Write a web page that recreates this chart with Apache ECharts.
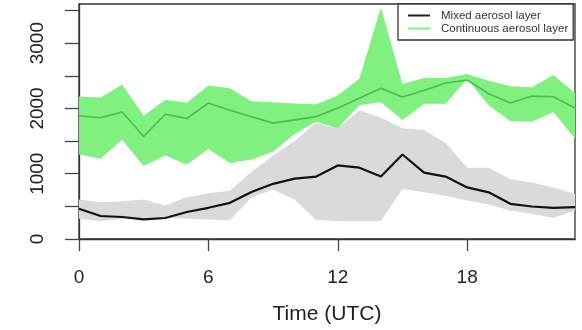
<!DOCTYPE html>
<html>
<head>
<meta charset="utf-8">
<style>
  html, body { margin: 0; padding: 0; background: #fff; }
  #chart { width: 582px; height: 330px; }
</style>
<script src="https://cdn.jsdelivr.net/npm/echarts@6/dist/echarts.min.js"></script>
</head>
<body>
<div id="chart"></div>
<script>
// Hour of day (UTC)
const hours = ['0','1','2','3','4','5','6','7','8','9','10','11','12','13','14','15','16','17','18','19','20','21','22','23'];

// Mixed aerosol layer height (m): mean and spread
const mixedMean = [463, 352, 337, 302, 322, 413, 478, 554, 720, 845, 925, 956, 1127, 1092, 956, 1294, 1017, 956, 790, 715, 539, 498, 478, 488];
const mixedLow  = [312, 277, 312, 312, 327, 312, 300, 287, 640, 760, 600, 290, 277, 277, 277, 765, 715, 664, 589, 528, 438, 388, 322, 438];
const mixedHigh = [604, 564, 579, 604, 513, 639, 700, 740, 1030, 1280, 1500, 1780, 1700, 1970, 1860, 1696, 1671, 1470, 1092, 1092, 916, 866, 790, 690];

// Continuous aerosol layer height (m): mean and spread
const contMean = [1887, 1857, 1947, 1570, 1912, 1846, 2083, 1972, 1872, 1775, 1825, 1875, 2005, 2155, 2308, 2174, 2275, 2390, 2436, 2225, 2083, 2189, 2179, 2008];
const contLow  = [1293, 1228, 1520, 1117, 1278, 1142, 1379, 1166, 1217, 1340, 1610, 1797, 1695, 2048, 2099, 1822, 2073, 2073, 2451, 2048, 1807, 1797, 1947, 1535];
const contHigh = [2184, 2169, 2365, 1887, 2134, 2089, 2350, 2310, 2109, 2095, 2075, 2065, 2199, 2460, 3548, 2375, 2466, 2466, 2526, 2426, 2340, 2325, 2511, 2235];

// Axis ticks
const xTickHours = [0, 6, 12, 18];
const yTicks = [0, 500, 1000, 1500, 2000, 2500, 3000, 3500];
const yLabels = [0, 1000, 2000, 3000];

const FONT = 'Liberation Sans, Arial, Helvetica, sans-serif';
const GREEN_BAND = '#80f080';
const GREEN_LINE = '#48bf48';
const GRAY_BAND = '#dadada';

const spread = (hi, lo) => hi.map((v, i) => v - lo[i]);

const chart = echarts.init(document.getElementById('chart'), null, { renderer: 'canvas' });

chart.setOption({
  animation: false,
  backgroundColor: '#fff',
  grid: {
    left: 79, right: 7, top: 4, bottom: 88,
    show: true, borderColor: '#333', borderWidth: 1.3, backgroundColor: 'transparent'
  },
  legend: {
    orient: 'vertical',
    left: 398, top: 4,
    padding: [5, 5, 5, 10],
    itemGap: 0,
    itemWidth: 22, itemHeight: 2,
    icon: 'rect',
    backgroundColor: '#fff',
    borderColor: '#333', borderWidth: 1.3, borderRadius: 0,
    textStyle: { fontFamily: FONT, fontSize: 11.5, color: '#333', lineHeight: 13, padding: [0, 0, 0, 6] },
    data: [
      { name: 'Mixed aerosol layer', itemStyle: { color: '#222' } },
      { name: 'Continuous aerosol layer', itemStyle: { color: GREEN_BAND } }
    ]
  },
  xAxis: {
    type: 'category',
    data: hours,
    boundaryGap: false,
    name: 'Time (UTC)',
    nameLocation: 'middle',
    nameGap: 65,
    nameTextStyle: { fontFamily: FONT, fontSize: 21, color: '#222' },
    axisLine: { show: true, lineStyle: { color: '#333', width: 1.3 } },
    axisTick: {
      show: true, length: 12, inside: false,
      interval: (i) => xTickHours.indexOf(i) >= 0,
      lineStyle: { color: '#444', width: 1.3 }
    },
    axisLabel: {
      interval: (i) => xTickHours.indexOf(i) >= 0,
      fontFamily: FONT, fontSize: 19, color: '#222', margin: 29
    },
    splitLine: { show: false }
  },
  yAxis: {
    type: 'value',
    min: 0, max: 3600,
    axisLine: { show: true, lineStyle: { color: '#333', width: 1.3 } },
    axisTick: {
      show: true, length: 14, inside: false,
      customValues: yTicks,
      lineStyle: { color: '#444', width: 1.3 }
    },
    axisLabel: {
      customValues: yLabels,
      formatter: (v) => String(v),
      rotate: 90,
      fontFamily: FONT, fontSize: 19, color: '#222', margin: 32
    },
    splitLine: { show: false }
  },
  series: [
    {
      name: 'mixedBase', type: 'line', stack: 'mixed', data: mixedLow,
      symbol: 'none', lineStyle: { opacity: 0 }, silent: true, z: 1
    },
    {
      name: 'mixedSpread', type: 'line', stack: 'mixed', data: spread(mixedHigh, mixedLow),
      symbol: 'none', lineStyle: { opacity: 0 }, areaStyle: { color: GRAY_BAND, opacity: 1 }, silent: true, z: 1
    },
    {
      name: 'contBase', type: 'line', stack: 'cont', data: contLow,
      symbol: 'none', lineStyle: { opacity: 0 }, silent: true, z: 1
    },
    {
      name: 'contSpread', type: 'line', stack: 'cont', data: spread(contHigh, contLow),
      symbol: 'none', lineStyle: { opacity: 0 }, areaStyle: { color: GREEN_BAND, opacity: 1 }, silent: true, z: 1
    },
    {
      name: 'Continuous aerosol layer', type: 'line', data: contMean,
      symbol: 'none', color: GREEN_LINE, lineStyle: { color: GREEN_LINE, width: 1.6 }, z: 3
    },
    {
      name: 'Mixed aerosol layer', type: 'line', data: mixedMean,
      symbol: 'none', color: '#111', lineStyle: { color: '#111', width: 2.2 }, z: 3
    }
  ]
});
</script>
</body>
</html>
